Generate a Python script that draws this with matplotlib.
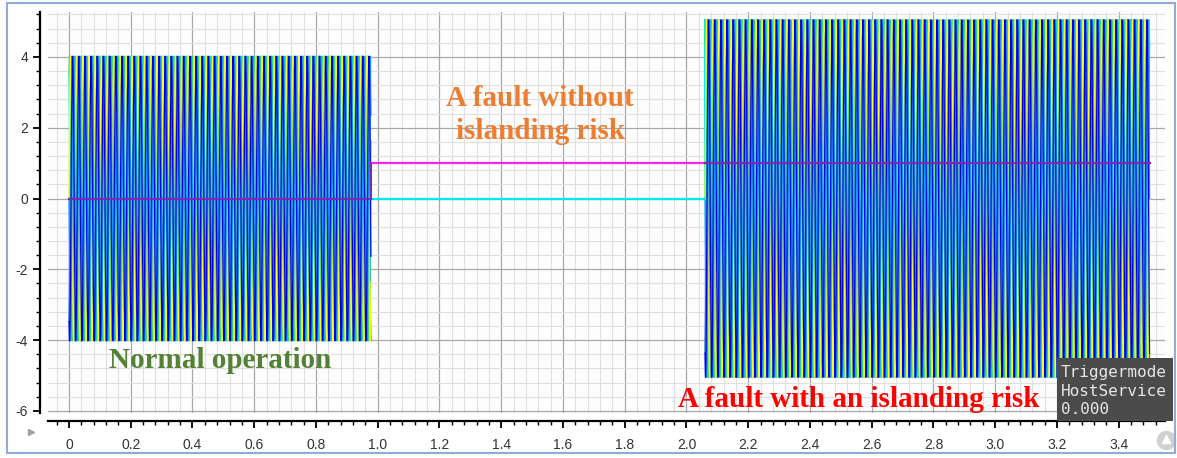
import numpy as np
import matplotlib.pyplot as plt
from matplotlib.ticker import MultipleLocator
from matplotlib.patches import Rectangle

plt.rcParams['axes.unicode_minus'] = False

# waveform data
freq_hz = 50
seg_start = [0.0, 0.978, 2.06]
seg_end = [0.978, 2.06, 3.50]
seg_amp = [4.02, 0.0, 5.05]
phase_deg = [300, 120, 60, 0, 180, 240]
phase_colors = ['#1560D8', '#00E8FF', '#1EE06E', '#FFFF00', '#1E90FF', '#0000F0']

# trip / islanding flag (step signal)
step_times = [0.0, 0.978, 3.50]
step_levels = [0, 1]

xticks = [0, 0.2, 0.4, 0.6, 0.8, 1.0, 1.2, 1.4, 1.6, 1.8, 2.0, 2.2, 2.4, 2.6, 2.8, 3.0, 3.2, 3.4]
xtick_labels = ['0', '0.2', '0.4', '0.6', '0.8', '1.0', '1.2', '1.4', '1.6', '1.8', '2.0',
                '2.2', '2.4', '2.6', '2.8', '3.0', '3.2', '3.4']
yticks = [-6, -4, -2, 0, 2, 4]

fig = plt.figure(figsize=(11.77, 4.58), dpi=100)
fig.patch.set_facecolor('white')
ax = fig.add_axes([48 / 1177, 45 / 458, 1117 / 1177, 401 / 458])
ax.set_facecolor('#FDFDFD')

# oscillating segments
for s, e, a in zip(seg_start, seg_end, seg_amp):
    if a == 0:
        continue
    t = np.linspace(s, e, int((e - s) * freq_hz * 120))
    for ph, c in zip(phase_deg, phase_colors):
        ax.plot(t, a * np.sin(2 * np.pi * freq_hz * t + np.deg2rad(ph)), color=c, lw=0.9, zorder=3)

# held-at-zero signal in the gap
ax.plot([seg_start[1], seg_end[1]], [0, 0], color='#00E8F0', lw=1.6, zorder=3)
ax.plot([seg_end[1], seg_end[1]], [0, seg_amp[2]], color='#00E8F0', lw=1.4, zorder=2)

# step signal: magenta where visible, purple where it sits on the waveforms
for i, lev in enumerate(step_levels):
    t0, t1 = step_times[i], step_times[i + 1]
    for s, e, a in zip(seg_start, seg_end, seg_amp):
        lo, hi = max(t0, s), min(t1, e)
        if hi <= lo:
            continue
        col = '#FF22EE' if a == 0 else '#7A2AB0'
        ax.plot([lo, hi], [lev, lev], color=col, lw=1.6, zorder=4)
ax.plot([step_times[1], step_times[1]], step_levels, color='#7A2AB0', lw=1.4, zorder=4)

ax.set_xlim(-0.068, 3.55)
ax.set_ylim(-6.06, 5.27)
ax.set_xticks(xticks)
ax.set_xticklabels(xtick_labels)
ax.set_yticks(yticks)
ax.xaxis.set_minor_locator(MultipleLocator(0.04))
ax.yaxis.set_minor_locator(MultipleLocator(0.4))
ax.grid(True, which='major', color='#A8A8A8', lw=0.9, zorder=0)
ax.grid(True, which='minor', color='#E0E0E0', lw=0.8, zorder=0)
ax.set_axisbelow(True)

for side in ['top', 'right']:
    ax.spines[side].set_visible(False)
for side in ['left', 'bottom']:
    ax.spines[side].set_position(('outward', 5.8))
    ax.spines[side].set_linewidth(1.6)
ax.tick_params(which='major', length=5, width=1.3, color='black', labelsize=10,
               labelcolor='#333333')
ax.tick_params(which='minor', length=3, width=1.0, color='black')
ax.tick_params(axis='x', pad=7)
for lab in ax.get_xticklabels() + ax.get_yticklabels():
    lab.set_family('Liberation Sans')

serif = dict(family='Liberation Serif', weight='bold', fontsize=21, ha='center', va='center', zorder=6)
ax.text(1.526, 2.36, 'A fault without\nislanding risk', color='#ED7D31', linespacing=1.3, **serif)
ax.text(0.489, -4.57, 'Normal operation', color='#538135', **serif)
ax.text(2.559, -5.67, 'A fault with an islanding risk', color='#FF0000', **serif)

# scope status box
W, H = 1177, 458
fig.patches.append(Rectangle((1057 / W, 1 - 421 / H), 116 / W, 63 / H, transform=fig.transFigure,
                             facecolor='#4B4B4B', edgecolor='none', zorder=10))
for k, line in enumerate(['Triggermode', 'HostService', '0.000']):
    fig.text(1061 / W, 1 - (372 + k * 19) / H, line, family='DejaVu Sans Mono', fontsize=11.5,
             color='#E6E6E6', va='center', ha='left', zorder=11)

# small widgets and outer frame
fig.lines.append(plt.Line2D([31 / W], [1 - 432 / H], marker='>', ms=5, color='#A0A0A0',
                            transform=fig.transFigure))
fig.lines.append(plt.Line2D([1166 / W], [1 - 440 / H], marker='o', ms=13, color='#D0D0D0',
                            transform=fig.transFigure))
fig.lines.append(plt.Line2D([1166 / W], [1 - 439 / H], marker='^', ms=6, color='white',
                            transform=fig.transFigure))
fig.patches.append(Rectangle((7 / W, 1 - 453 / H), 1168 / W, 450 / H, transform=fig.transFigure,
                             facecolor='none', edgecolor='#8FAADC', lw=1.5, zorder=12))

fig.savefig('out.png', dpi=100)
